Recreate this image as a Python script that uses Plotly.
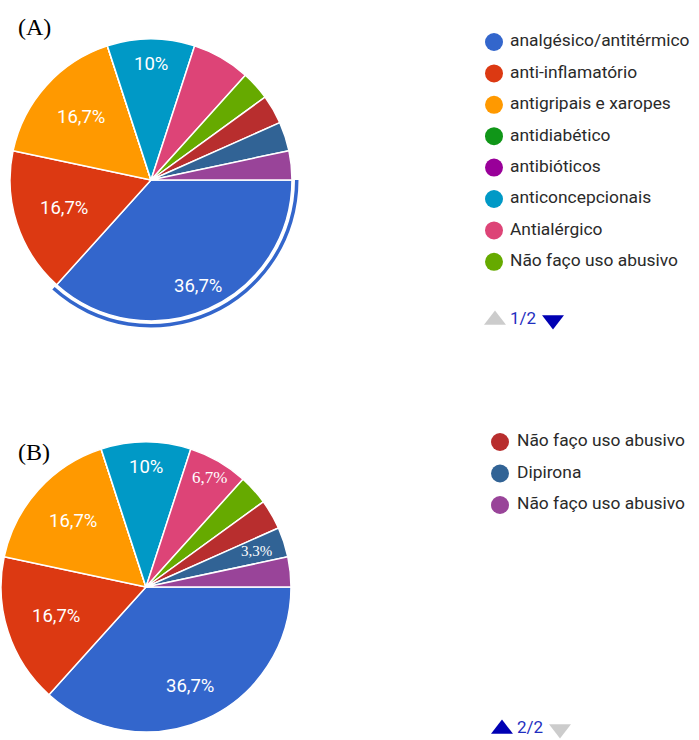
import math
import plotly.graph_objects as go

W, H = 699, 740

categories = ["analgésico/antitérmico", "anti-inflamatório", "antigripais e xaropes",
              "antidiabético", "antibióticos", "anticoncepcionais", "Antialérgico",
              "Não faço uso abusivo", "Não faço uso abusivo", "Dipirona", "Não faço uso abusivo"]
counts = [11, 5, 5, 0, 0, 3, 2, 1, 1, 1, 1]
colors = ["#3366CC", "#DC3912", "#FF9900", "#109618", "#990099", "#0099C6",
          "#DD4477", "#66AA00", "#B82E2E", "#316395", "#994499"]
text_A = ["36,7%", "16,7%", "16,7%", "", "", "10%", "", "", "", "", ""]
text_B = ["36,7%", "16,7%", "16,7%", "", "", "10%", "6,7%", "", "", "3,3%", ""]
legend_A_idx = [0, 1, 2, 3, 4, 5, 6, 7]
legend_B_idx = [8, 9, 10]

# label placement style (fraction of radius)
lab_r_A = [0.82, 0.65, 0.67, 0, 0, 0.82, 0, 0, 0, 0, 0]
lab_r_B = [0.75, 0.65, 0.68, 0, 0, 0.83, 0.87, 0, 0, 0.80, 0]

labels = [c + "\u200b" * i for i, c in enumerate(categories)]

SANS = "Roboto, Liberation Sans, Arial, sans-serif"
SERIF = "Liberation Serif, Times New Roman, serif"

PIE_A = dict(cx=151, cy=180, r=141)
PIE_B = dict(cx=146, cy=587, r=145)


def dom(cx, cy, r):
    return dict(x=[(cx - r) / W, (cx + r) / W], y=[(H - cy - r) / H, (H - cy + r) / H])


fig = go.Figure()

fig.add_trace(go.Pie(
    labels=labels, values=counts, sort=False, direction="clockwise", rotation=90,
    marker=dict(colors=colors, line=dict(color="white", width=1.5)),
    textinfo="none", domain=dom(**PIE_A), showlegend=False, hoverinfo="label+percent"))

ring_colors = ["#3366CC"] + ["rgba(0,0,0,0)"] * (len(counts) - 1)
fig.add_trace(go.Pie(
    labels=labels, values=counts, sort=False, direction="clockwise", rotation=90,
    hole=144 / 147.5, marker=dict(colors=ring_colors, line=dict(width=0)),
    textinfo="none", domain=dom(PIE_A["cx"], PIE_A["cy"], 147.5),
    showlegend=False, hoverinfo="skip"))

fig.add_trace(go.Pie(
    labels=labels, values=counts, sort=False, direction="clockwise", rotation=90,
    marker=dict(colors=colors, line=dict(color="white", width=1.5)),
    textinfo="none", domain=dom(**PIE_B), showlegend=False, hoverinfo="label+percent"))

annotations = []


def slice_labels(pie, texts, fracs, fonts):
    total = sum(counts)
    cum = 0
    for i, v in enumerate(counts):
        mid = (cum + v / 2) / total
        cum += v
        if not texts[i]:
            continue
        th = 2 * math.pi * mid  # clockwise from 3 o'clock (screen y down)
        x = pie["cx"] + fracs[i] * pie["r"] * math.cos(th)
        y = pie["cy"] + fracs[i] * pie["r"] * math.sin(th)
        fam, size = fonts.get(i, (SANS, 18.5))
        annotations.append(dict(x=x, y=y, xref="x", yref="y", text=texts[i], showarrow=False,
                                xanchor="center", yanchor="middle",
                                font=dict(family=fam, size=size, color="white")))


slice_labels(PIE_A, text_A, lab_r_A, {})
slice_labels(PIE_B, text_B, lab_r_B, {6: (SERIF, 17), 9: (SERIF, 15)})


def legend(idx, x0, xt, y0, step):
    ys = [y0 + k * step for k in range(len(idx))]
    fig.add_trace(go.Scatter(
        x=[x0] * len(idx), y=ys, mode="markers",
        marker=dict(size=18, color=[colors[i] for i in idx], line=dict(width=0)),
        showlegend=False, hoverinfo="skip"))
    fig.add_trace(go.Scatter(
        x=[xt] * len(idx), y=ys, mode="text",
        text=[categories[i] for i in idx], textposition="middle right",
        textfont=dict(family=SANS, size=17.4, color="#2A2A2A"),
        showlegend=False, hoverinfo="skip"))


legend(legend_A_idx, 494, 510, 42, 31.4)
legend(legend_B_idx, 500, 517, 442, 31.5)

pager = [
    dict(x=495, y=320, up="#CCCCCC", label="1/2", xd=553, down="#0000B3", tx=510),
    dict(x=502, y=729, up="#0000B3", label="2/2", xd=560, down="#CCCCCC", tx=517),
]
for p in pager:
    fig.add_trace(go.Scatter(
        x=[p["x"], p["xd"]], y=[p["y"], p["y"]], mode="markers",
        marker=dict(symbol=["triangle-up", "triangle-down"], size=19,
                    color=[p["up"], p["down"]], line=dict(width=0)),
        showlegend=False, hoverinfo="skip"))
    fig.add_trace(go.Scatter(
        x=[p["tx"]], y=[p["y"]], mode="text", text=[p["label"]],
        textposition="middle right",
        textfont=dict(family=SANS, size=17, color="#1F2FBF"),
        showlegend=False, hoverinfo="skip"))

annotations += [
    dict(x=16, y=27, xref="x", yref="y", text="(A)", showarrow=False,
         xanchor="left", yanchor="middle", font=dict(family=SERIF, size=24, color="black")),
    dict(x=16, y=452, xref="x", yref="y", text="(B)", showarrow=False,
         xanchor="left", yanchor="middle", font=dict(family=SERIF, size=24, color="black")),
]

fig.update_layout(
    width=W, height=H, margin=dict(l=0, r=0, t=0, b=0),
    paper_bgcolor="white", plot_bgcolor="rgba(0,0,0,0)",
    xaxis=dict(range=[0, W], domain=[0, 1], visible=False, fixedrange=True),
    yaxis=dict(range=[H, 0], domain=[0, 1], visible=False, fixedrange=True),
    annotations=annotations,
)

fig.write_html("out.html")
